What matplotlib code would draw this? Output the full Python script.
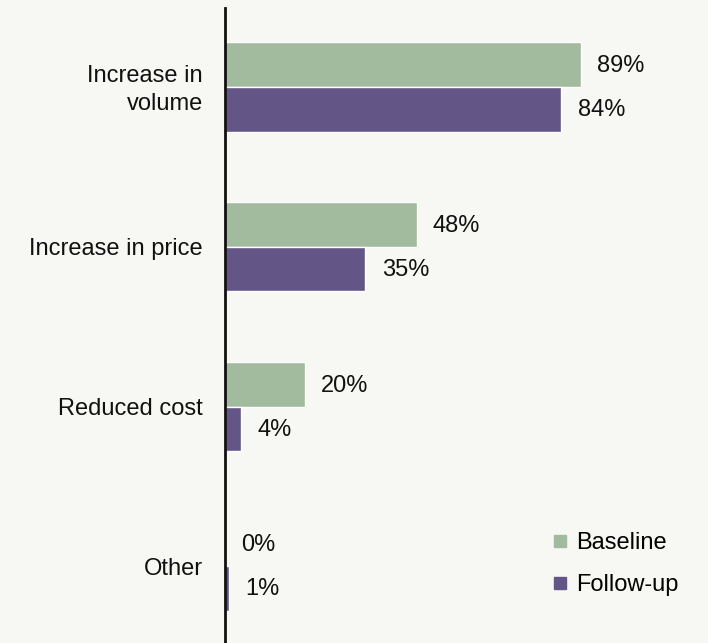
import matplotlib
matplotlib.use("Agg")
import matplotlib.pyplot as plt
import matplotlib.transforms as mtransforms
from matplotlib.lines import Line2D
import numpy as np

categories = ["Increase in\nvolume", "Increase in price", "Reduced cost", "Other"]
baseline = [89, 48, 20, 0]
followup = [84, 35, 4, 1]
series_names = ["Baseline", "Follow-up"]

BG = "#F7F7F3"
GREEN = "#A2BA9D"
PURPLE = "#645587"

plt.rcParams['font.family'] = ['Liberation Sans', 'DejaVu Sans']

fig = plt.figure(figsize=(7.08, 6.43), dpi=100, facecolor=BG)
ax = fig.add_axes([225/708, 0, 480/708, 635/643], facecolor=BG)

y = np.arange(len(categories))
h = 0.28
ax.barh(y - h/2, baseline, height=h, color=GREEN, edgecolor="white", linewidth=1)
ax.barh(y + h/2, followup, height=h, color=PURPLE, edgecolor="white", linewidth=1)

fs = 17
for yi, v in zip(y, baseline):
    ax.annotate(f"{v}%", (v, yi - h/2), xytext=(11.5, -1), textcoords="offset points",
                va="center", ha="left", fontsize=fs, color="#111111")
for yi, v in zip(y, followup):
    ax.annotate(f"{v}%", (v, yi + h/2), xytext=(12, -0.5), textcoords="offset points",
                va="center", ha="left", fontsize=fs, color="#111111")

ax.set_xlim(0, 120)
ax.set_ylim(3.48, -0.494)
ax.set_yticks(y)
ax.set_yticklabels(categories, fontsize=fs, color="#111111", ha="right", linespacing=1.38)
ax.tick_params(axis="y", length=0, pad=16)
first = ax.get_yticklabels()[0]
first.set_transform(first.get_transform() + mtransforms.ScaledTranslation(0, 2.5/100, fig.dpi_scale_trans))
ax.set_xticks([])
for s in ["top", "right", "bottom"]:
    ax.spines[s].set_visible(False)
ax.spines["left"].set_linewidth(2)
ax.spines["left"].set_color("#111111")

handles = [Line2D([], [], marker="s", linestyle="none", markersize=8, color=GREEN),
           Line2D([], [], marker="s", linestyle="none", markersize=8, color=PURPLE)]
leg = ax.legend(handles, series_names, loc="lower left", bbox_to_anchor=(0.63, 0.04),
                frameon=False, fontsize=fs, handletextpad=0.15, labelspacing=0.85,
                handlelength=1.0)

fig.savefig("out.png", dpi=100, facecolor=BG)
